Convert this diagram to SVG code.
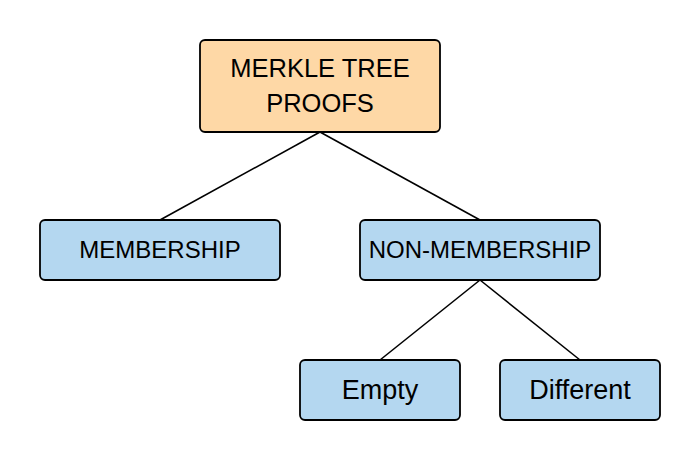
<svg xmlns="http://www.w3.org/2000/svg" width="700" height="460" viewBox="0 0 700 460">
<style>
.box{stroke:#000;stroke-width:1.8}
.root{fill:#fed8a6}
.leaf{fill:#b4d7f0}
.lbl{font-family:"Liberation Sans",Arial,sans-serif;font-size:24px;fill:#000;text-anchor:middle}
.big{font-size:27px}
.edge{stroke:#000;stroke-width:1.6;fill:none}
</style>
<rect width="700" height="460" fill="#fff"/>
<g id="connectors">
<line class="edge" x1="320" y1="132" x2="160" y2="220"/>
<line class="edge" x1="320" y1="132" x2="480" y2="220"/>
<line class="edge" x1="480" y1="280" x2="380" y2="360"/>
<line class="edge" x1="480" y1="280" x2="580" y2="360"/>
</g>
<g id="root">
<rect class="box root" x="200" y="40" width="240" height="92" rx="5"/>
<text class="lbl" x="320" y="77" style="font-size:25.5px">MERKLE TREE</text>
<text class="lbl" x="320" y="112" style="font-size:25.5px">PROOFS</text>
</g>
<g id="membership">
<rect class="box leaf" x="40" y="220" width="240" height="60" rx="5"/>
<text class="lbl" x="160" y="258">MEMBERSHIP</text>
</g>
<g id="non-membership">
<rect class="box leaf" x="360" y="220" width="240" height="60" rx="5"/>
<text class="lbl" x="480" y="258">NON-MEMBERSHIP</text>
</g>
<g id="empty">
<rect class="box leaf" x="300" y="360" width="160" height="60" rx="5"/>
<text class="lbl big" x="380" y="399">Empty</text>
</g>
<g id="different">
<rect class="box leaf" x="500" y="360" width="160" height="60" rx="5"/>
<text class="lbl big" x="580" y="399">Different</text>
</g>
</svg>
